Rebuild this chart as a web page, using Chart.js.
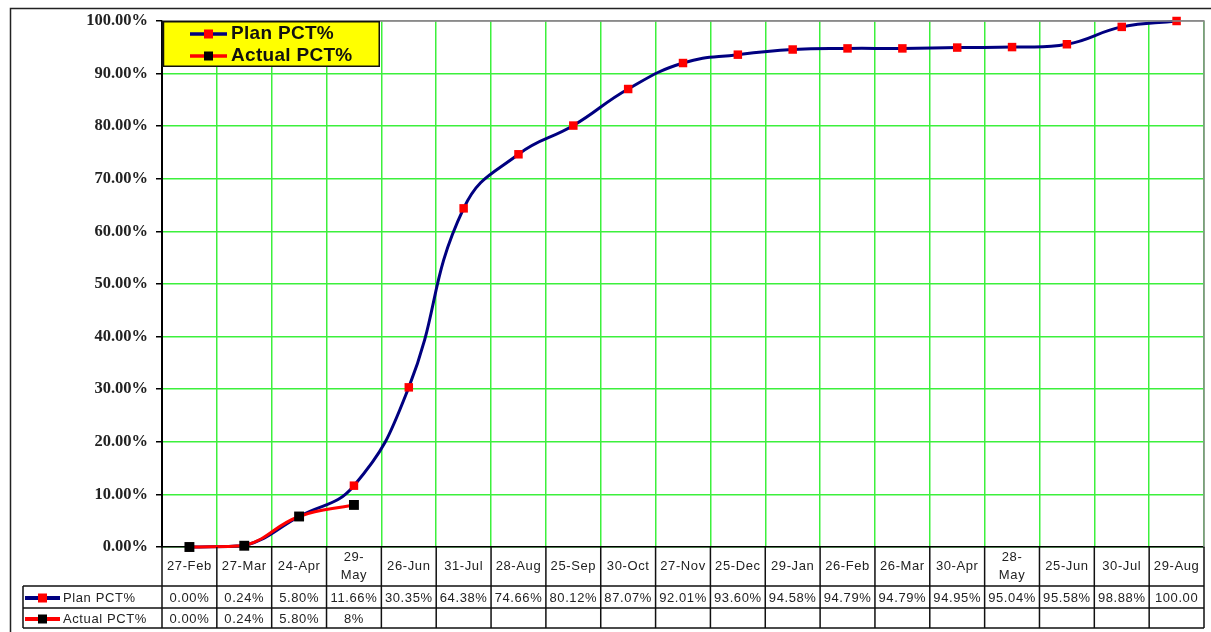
<!DOCTYPE html>
<html>
<head>
<meta charset="utf-8">
<script src="https://cdn.jsdelivr.net/npm/chart.js@4"></script>
<style>
  html, body { margin: 0; padding: 0; background: #fff; }
  #wrap { width: 1211px; height: 632px; position: relative; }
</style>
</head>
<body>
<div id="wrap"><canvas id="c" width="1211" height="632"></canvas></div>
<script>
// Schedule dates (category axis)
const categories = ['27-Feb', '27-Mar', '24-Apr', '29-May', '26-Jun', '31-Jul', '28-Aug', '25-Sep',
  '30-Oct', '27-Nov', '25-Dec', '29-Jan', '26-Feb', '26-Mar', '30-Apr', '28-May', '25-Jun', '30-Jul', '29-Aug'];
// Header labels as printed in the table (some wrap onto two lines)
const headerLabels = ['27-Feb', '27-Mar', '24-Apr', ['29-', 'May'], '26-Jun', '31-Jul', '28-Aug', '25-Sep',
  '30-Oct', '27-Nov', '25-Dec', '29-Jan', '26-Feb', '26-Mar', '30-Apr', ['28-', 'May'], '25-Jun', '30-Jul', '29-Aug'];

// Cumulative progress, percent
const planPct = [0.00, 0.24, 5.80, 11.66, 30.35, 64.38, 74.66, 80.12, 87.07, 92.01, 93.60, 94.58,
  94.79, 94.79, 94.95, 95.04, 95.58, 98.88, 100.00];
const actualPct = [0.00, 0.24, 5.80, 8];

// Text shown in the data table rows
const planText = ['0.00%', '0.24%', '5.80%', '11.66%', '30.35%', '64.38%', '74.66%', '80.12%', '87.07%',
  '92.01%', '93.60%', '94.58%', '94.79%', '94.79%', '94.95%', '95.04%', '95.58%', '98.88%', '100.00'];
const actualText = ['0.00%', '0.24%', '5.80%', '8%'];

const yTicks = [0, 10, 20, 30, 40, 50, 60, 70, 80, 90, 100];

const GRID_GREEN = '#3cf03c';
const TABLE_LEFT = 23;
const ROW1 = 586, ROW2 = 608, ROW3 = 628;
const TABLE_FONT = '13px "Liberation Sans", Arial, sans-serif';

function drawSymbol(ctx, x0, x1, y, lineColor, markColor, lw, ms) {
  ctx.save();
  ctx.strokeStyle = lineColor;
  ctx.lineWidth = lw;
  ctx.beginPath();
  ctx.moveTo(x0, y);
  ctx.lineTo(x1, y);
  ctx.stroke();
  ctx.fillStyle = markColor;
  const mx = (x0 + x1) / 2;
  ctx.fillRect(mx - ms / 2, y - ms / 2, ms, ms);
  ctx.restore();
}

const tablePlugin = {
  id: 'frameAndTable',
  beforeDraw(chart) {
    const ctx = chart.ctx;
    ctx.save();
    ctx.fillStyle = '#fff';
    ctx.fillRect(0, 0, chart.width, chart.height);
    // outer frame
    ctx.strokeStyle = '#222';
    ctx.lineWidth = 1.5;
    ctx.beginPath();
    ctx.moveTo(10.5, chart.height + 2);
    ctx.lineTo(10.5, 8.5);
    ctx.lineTo(chart.width + 2, 8.5);
    ctx.stroke();
    ctx.restore();
  },
  afterDraw(chart) {
    const ctx = chart.ctx;
    const area = chart.chartArea;
    const xs = chart.scales.x;
    const n = categories.length;
    const colW = (area.right - area.left) / n;
    ctx.save();

    // plot border (top / right)
    ctx.strokeStyle = '#8a8a8a';
    ctx.lineWidth = 1.5;
    ctx.beginPath();
    ctx.moveTo(area.left, area.top);
    ctx.lineTo(area.right, area.top);
    ctx.lineTo(area.right, area.bottom);
    ctx.stroke();

    // data table grid
    ctx.strokeStyle = '#111';
    ctx.lineWidth = 1.5;
    ctx.beginPath();
    for (let i = 0; i <= n; i++) {
      const x = area.left + i * colW;
      ctx.moveTo(x, area.bottom);
      ctx.lineTo(x, ROW3);
    }
    ctx.moveTo(TABLE_LEFT, ROW1); ctx.lineTo(area.right, ROW1);
    ctx.moveTo(TABLE_LEFT, ROW2); ctx.lineTo(area.right, ROW2);
    ctx.moveTo(TABLE_LEFT, ROW3); ctx.lineTo(area.right, ROW3);
    ctx.moveTo(TABLE_LEFT, ROW1); ctx.lineTo(TABLE_LEFT, ROW3);
    ctx.stroke();

    // header row: dates
    ctx.fillStyle = '#222';
    ctx.font = TABLE_FONT;
    ctx.letterSpacing = '0.6px';
    ctx.textAlign = 'center';
    ctx.textBaseline = 'middle';
    headerLabels.forEach((lab, i) => {
      const cx = xs.getPixelForValue(i);
      if (Array.isArray(lab)) {
        ctx.fillText(lab[0], cx, 557);
        ctx.fillText(lab[1], cx, 575);
      } else {
        ctx.fillText(lab, cx, 566);
      }
    });

    // value rows
    const y1 = (ROW1 + ROW2) / 2 + 1, y2 = (ROW2 + ROW3) / 2 + 1;
    planText.forEach((t, i) => ctx.fillText(t, xs.getPixelForValue(i), y1));
    actualText.forEach((t, i) => ctx.fillText(t, xs.getPixelForValue(i), y2));

    // row headers
    const ds = chart.data.datasets;
    drawSymbol(ctx, 25, 60, y1, '#000080', '#ff0000', 4, 9);
    drawSymbol(ctx, 25, 60, y2, '#ff0000', '#000000', 4, 9);
    ctx.fillStyle = '#222';
    ctx.textAlign = 'left';
    ctx.fillText(ds[0].label, 63, y1);
    ctx.fillText(ds[1].label, 63, y2);

    // legend box
    const lx = area.left, ly = area.top, lw = 218, lh = 46;
    ctx.fillStyle = '#ffff00';
    ctx.fillRect(lx, ly, lw, lh);
    ctx.strokeStyle = '#111';
    ctx.lineWidth = 1.5;
    ctx.strokeRect(lx + 0.75, ly + 0.75, lw - 1.5, lh - 1.5);
    ctx.lineWidth = 2.5;
    ctx.beginPath();
    ctx.moveTo(lx + 1, ly); ctx.lineTo(lx + 1, ly + lh);
    ctx.stroke();
    drawSymbol(ctx, 190, 227, ly + 13, '#000080', '#ff0000', 3.5, 9);
    drawSymbol(ctx, 190, 227, ly + 35, '#ff0000', '#000000', 3.5, 9);
    ctx.fillStyle = '#111';
    ctx.letterSpacing = '0.3px';
    ctx.font = 'bold 19px "Liberation Sans", Arial, sans-serif';
    ctx.textAlign = 'left';
    ctx.textBaseline = 'middle';
    ctx.fillText(ds[0].label, 231, ly + 13);
    ctx.fillText(ds[1].label, 231, ly + 35);
    ctx.restore();
  }
};

new Chart(document.getElementById('c'), {
  type: 'line',
  data: {
    labels: categories,
    datasets: [
      {
        label: 'Plan PCT%',
        data: planPct,
        borderColor: '#000080',
        borderWidth: 3,
        tension: 0.45,
        pointStyle: 'rect',
        pointRadius: 6,
        pointBackgroundColor: '#ff0000',
        pointBorderColor: '#ff0000',
        pointBorderWidth: 0,
        clip: 12,
        order: 1
      },
      {
        label: 'Actual PCT%',
        data: actualPct,
        borderColor: '#ff0000',
        borderWidth: 3,
        tension: 0.45,
        pointStyle: 'rect',
        pointRadius: 7,
        pointBackgroundColor: '#000000',
        pointBorderColor: '#000000',
        pointBorderWidth: 0,
        clip: 12,
        order: 0
      }
    ]
  },
  options: {
    responsive: false,
    animation: false,
    events: [],
    layout: { padding: { left: 0, top: 21, right: 6, bottom: 0 } },
    plugins: { legend: { display: false }, tooltip: { enabled: false } },
    scales: {
      x: {
        type: 'category',
        offset: true,
        grid: { offset: true, color: GRID_GREEN, lineWidth: 1.5, drawTicks: false },
        border: { display: true, color: '#000', width: 1.5 },
        ticks: { display: false },
        afterFit(scale) { scale.height = 85; }
      },
      y: {
        min: 0,
        max: 100,
        afterBuildTicks(scale) { scale.ticks = yTicks.map(v => ({ value: v })); },
        grid: {
          color: ctx => (ctx.tick && ctx.tick.value === 100) ? '#8a8a8a' : GRID_GREEN,
          lineWidth: 1.5,
          tickLength: 6,
          tickColor: '#000'
        },
        border: { display: true, color: '#000', width: 2 },
        ticks: {
          color: '#222',
          padding: 8,
          font: { family: '"Liberation Serif", "Times New Roman", serif', weight: 'bold', size: 16.5 },
          callback: v => Number(v).toFixed(2) + '%'
        },
        afterFit(scale) { scale.width = 162; }
      }
    }
  },
  plugins: [tablePlugin]
});
</script>
</body>
</html>
